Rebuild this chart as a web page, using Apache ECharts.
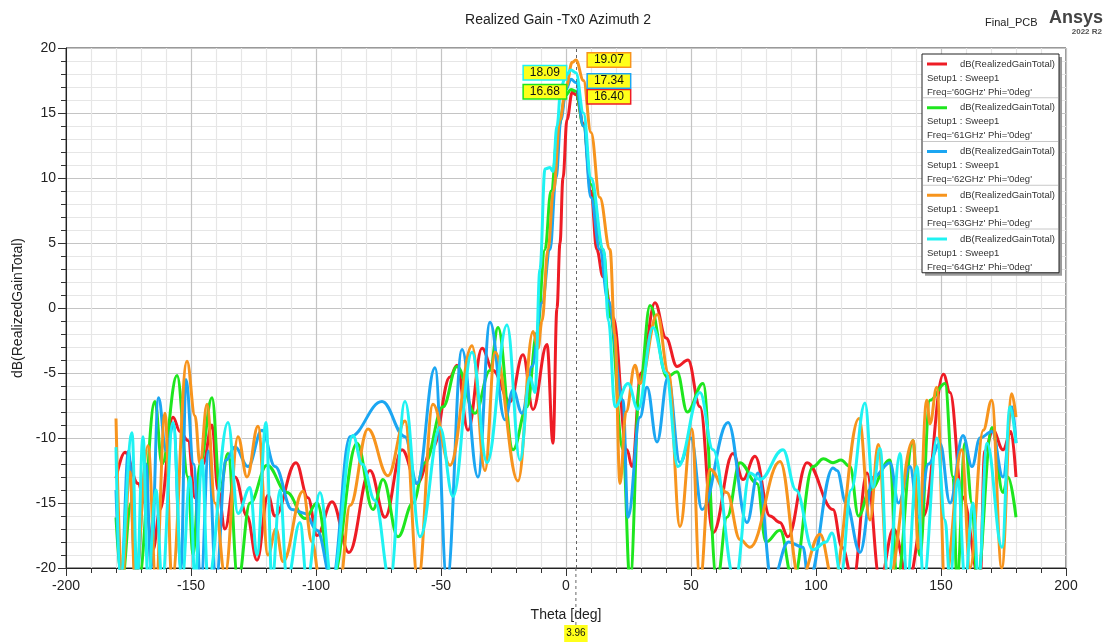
<!DOCTYPE html>
<html><head><meta charset="utf-8">
<script src="https://cdn.jsdelivr.net/npm/echarts/dist/echarts.min.js"></script>
<style>html,body{margin:0;padding:0;background:#fff}#c{width:1112px;height:643px}</style>
</head><body><div id="c"></div>
<script>
// ---------- data ----------
const xTicks = { min: -200, max: 200, step: 50 };
const yTicks = { min: -20, max: 20, step: 5 };
const freqLabels = ['60GHz', '61GHz', '62GHz', '63GHz', '64GHz'];
const seriesColors = ['#ee1c25', '#1ee61e', '#1ba6f2', '#f7941d', '#1ff2f2'];
const markerTheta = 3.96;
const markerValues = [16.40, 16.68, 17.34, 19.07, 18.09];

const gain60 = [[-180,-13.1],[-176.4,-11.1],[-171.2,-13.5],[-168.4,-15],[-165.2,-18.6],[-162.4,-15.5],[-157.2,-8.4],[-154.4,-9.5],[-151.2,-10.2],[-148.4,-14.6],[-145.2,-12],[-141.6,-9],[-139.2,-14],[-136.4,-17],[-132.4,-13],[-127.6,-16],[-123.6,-19.4],[-119.2,-14.4],[-116.4,-16],[-108,-11.9],[-103.2,-14.6],[-99.6,-17.5],[-93.6,-14.9],[-86.8,-18.8],[-78.4,-12.5],[-72.4,-16.1],[-65.6,-10.9],[-59.6,-13.5],[-53.2,-10.7],[-46.4,-5.3],[-43.6,-4.4],[-39.2,-9.4],[-33.6,-3.1],[-29.2,-4.8],[-22.4,-7.2],[-17.2,-3.6],[-13.2,-7.8],[-7.6,-2.8],[-5.2,-10.4],[-3.6,0],[-2.4,5],[-1.2,10],[0.4,14.5],[2.5,16.6],[3.96,16.40],[7,14.2],[10,9],[12.3,4.5],[14.8,2.4],[18.8,-0.7],[24.4,-10.9],[26.4,-12.2],[30,-5],[35.6,0.4],[40,-2.3],[44.4,-4.5],[48.8,-4],[53.6,-7.6],[58.8,-17.3],[66.8,-11.2],[70.8,-13.2],[75.6,-11.4],[81.6,-16],[85.6,-16.5],[88.8,-17.6],[96.4,-11.9],[106.8,-15.5],[110.4,-18.4],[114.8,-21],[120.4,-12.7],[125.6,-21],[131,-17],[137,-21],[143,-16],[151,-5.1],[153.6,-6.5],[158.5,-14.5],[165.6,-21],[167.5,-11],[170.8,-9.4],[174.8,-10.9],[178,-9.5],[180,-13]];

const gain61 = [[-180,-16.1],[-177.6,-21],[-174,-15],[-171,-21],[-164.4,-7.2],[-161.6,-12],[-155.6,-5.2],[-151.2,-13],[-149.2,-19],[-146.4,-12],[-141.6,-6.9],[-138.4,-14],[-135.2,-11.2],[-131.2,-21],[-126.4,-15],[-119.6,-12.1],[-111.6,-14.2],[-104.4,-16.2],[-99.6,-15],[-93.6,-21],[-83.6,-10.4],[-77.2,-15.5],[-73.2,-13.2],[-67.2,-17.6],[-61.2,-15],[-56.4,-11.9],[-49.2,-7.6],[-43.6,-4.5],[-36.4,-8.1],[-30.4,-4.8],[-27.2,-1.5],[-21.2,-10.9],[-15.6,-7.6],[-11.6,-1.9],[-8.4,4.5],[-6,9],[-3,14],[0,16.4],[2,16.8],[3.96,16.68],[7,14],[10,9.5],[14.8,4.5],[17.6,-0.7],[22.8,-10.9],[25.6,-21],[29.6,-5.8],[33.6,0.2],[40.4,-5.3],[44.4,-4.9],[48.5,-8],[54.8,-5.8],[60.4,-21],[64.4,-16.1],[69.6,-11.9],[76.4,-13.5],[80,-18],[85.6,-17.1],[90.8,-21],[98.8,-12.2],[103,-11.6],[106.8,-11.9],[110,-11.7],[113.6,-12.2],[117,-16],[121.6,-14],[129.6,-11.7],[132.4,-21],[138.8,-10.2],[141.5,-19],[145.6,-7.1],[151.6,-5.8],[154.8,-13],[156.4,-21],[159.6,-10.4],[162.4,-15],[164.4,-21],[170.4,-9.2],[174.8,-14.2],[176.8,-13],[180,-16.1]];

const gain62 = [[-180,-14],[-178,-21],[-175,-11],[-172,-21],[-168,-12],[-166,-20],[-163,-6.9],[-160,-11],[-157,-9],[-154,-20],[-152,-5.5],[-149,-12],[-146,-21],[-143,-11],[-140,-21],[-136,-11.7],[-132.4,-10.7],[-127.2,-12.2],[-121.6,-9.4],[-116.4,-12.2],[-109.6,-15.5],[-104.4,-15.8],[-99.6,-17.1],[-93.6,-21],[-86.4,-9.9],[-73.6,-7.2],[-64.4,-9.9],[-59.6,-13.5],[-52.4,-4.6],[-47.6,-21],[-41.6,-3.2],[-35.2,-13],[-30.4,-1.1],[-24.4,-8.6],[-21.2,-6.3],[-17.6,-8.1],[-13.6,-4.5],[-9.6,0.4],[-6.4,4.5],[-4,10],[-2,14.5],[0,16.8],[2,17.6],[3.96,17.34],[7,14],[10,8.5],[13.5,4.5],[16.8,0.6],[22.8,-7.1],[24.8,-16.1],[29.6,-8.4],[32.4,-6.1],[36.4,-10.3],[40.8,-5.3],[45.6,-11.9],[50,-10],[54.4,-15.5],[64.8,-8.8],[72.4,-16.5],[76.8,-12.7],[82.4,-21],[89,-18],[94.8,-18.4],[97,-21],[106.8,-12.3],[108.4,-12.5],[112,-15],[117.6,-18.8],[123,-13],[129.6,-11.9],[133,-15],[137.6,-12.2],[141,-16.1],[145,-12],[149.6,-10.4],[153.6,-15],[158.8,-9.8],[162.4,-12.2],[165.6,-10],[170.4,-9.5],[174.8,-13],[178.4,-7.6],[180,-10.4]];

const gain63 = [[-180,-8.5],[-177.6,-21],[-174.4,-12.6],[-172.4,-21],[-167.2,-10.6],[-164,-21],[-160.4,-8.1],[-157.6,-21],[-151.6,-4.1],[-148.4,-8.3],[-146.4,-12],[-143.6,-7.4],[-140.4,-15],[-136.4,-20.5],[-131.2,-9.9],[-127.6,-13],[-123.2,-9.1],[-119.2,-19],[-116,-17],[-113.2,-19.5],[-105.2,-14.1],[-101.6,-18],[-98.4,-21],[-90.4,-21],[-86.4,-15.2],[-79.2,-9.3],[-71.2,-12.9],[-64.4,-8.7],[-59.2,-21],[-53.2,-7.4],[-46.4,-12.1],[-37.6,-2.9],[-32.4,-12.5],[-28.4,-3.4],[-19.2,-13.3],[-13.2,-1.8],[-11.2,-3.1],[-9.6,-1],[-7.2,4.5],[-5,9],[-2.4,14.5],[0,17],[2.5,18.9],[3.96,19.07],[7,17.5],[10,13.5],[13.5,8.5],[17.6,4.5],[19.5,-2],[21.6,-13.5],[24,-8],[27.6,-4.4],[29.6,-5.8],[36.5,-0.5],[41,-5],[45.6,-16.8],[50.3,-9.3],[53.6,-21],[57.6,-12.4],[64.3,-14.2],[69.6,-17.8],[73.6,-18.4],[85.6,-11.8],[93.6,-21],[101.6,-17.4],[106.9,-21],[117.2,-8.5],[121.6,-16.3],[124.9,-10.5],[128.9,-21],[138.9,-10.2],[140.9,-18.5],[144.3,-7.1],[145.6,-8.9],[148.3,-6.1],[151.6,-21],[158.3,-10.9],[161.6,-20],[166.9,-9.4],[170.3,-7.1],[174.3,-20],[178.3,-6.6],[180,-8.4]];

const gain64 = [[-180,-10.7],[-178.4,-21],[-173.6,-9.6],[-171.6,-21],[-169.2,-9.9],[-167.2,-21],[-164,-14],[-161.6,-21],[-157.2,-8.8],[-153.6,-21],[-150.4,-13],[-148.4,-21],[-145.6,-11.7],[-143.2,-21],[-135.2,-8.8],[-131.2,-15.8],[-126.4,-13.8],[-123.6,-19],[-120,-8.8],[-117.6,-21],[-114.4,-14],[-111.6,-21],[-106.4,-16.5],[-103.6,-21],[-98.4,-14.2],[-93.6,-21],[-85.2,-9.8],[-81.6,-12],[-76.4,-14.8],[-70.4,-21],[-64.4,-7.2],[-58.4,-17.6],[-50.4,-9.2],[-45.2,-14.5],[-37.6,-3.4],[-31.6,-11.9],[-23.6,-1.3],[-18.4,-11.7],[-14.4,-5.3],[-12.4,-6.5],[-10.4,3],[-8.4,10.7],[-6.4,10.8],[-5.2,10.5],[-3.6,14],[-2,17],[0,17.9],[2,18.3],[3.96,18.09],[7,15],[10,10],[15,4.5],[17,-1],[19.6,-7.6],[24.8,-5.8],[28.8,-7.8],[34.8,-1.5],[40,-5],[44.8,-12.2],[53.6,-6.5],[58.8,-10.9],[67.6,-21],[73.6,-12.7],[77.6,-13.2],[86.8,-10.9],[92,-14],[98.8,-18.6],[104,-18],[106.4,-17.3],[110,-20.5],[114,-14],[119.6,-7.3],[122.8,-13.8],[125.6,-10.8],[128.8,-21],[133.6,-11.2],[136.4,-21],[140.4,-12.2],[143,-21],[148.4,-10],[151.6,-16.3],[153.6,-21],[156.8,-13.2],[159.6,-21],[162.8,-15],[165,-21],[168.4,-10.4],[174.4,-18.4],[177.6,-7.6],[180,-10.4]];

const allGains = [gain60, gain61, gain62, gain63, gain64];
const traceName = 'dB(RealizedGainTotal)';
const setupName = 'Setup1 : Sweep1';

// ---------- chart ----------
const FONT = '"Liberation Sans", Arial, sans-serif';
const chart = echarts.init(document.getElementById('c'), null, { renderer: 'canvas' });

const labelSide = ['right', 'left', 'right', 'right', 'left'];
const labelShift = [2, 0.5, -1.5, 0, 0];

const series = allGains.map((g, i) => ({
  name: freqLabels[i],
  type: 'line',
  data: g,
  smooth: 0.4,
  smoothMonotone: 'x',
  showSymbol: false,
  symbol: 'none',
  clip: true,
  z: 2 + i,
  lineStyle: { color: seriesColors[i], width: 3 },
  itemStyle: { color: seriesColors[i] },
  markPoint: {
    symbol: 'circle', symbolSize: 0, silent: true,
    data: [{ coord: [markerTheta, markerValues[i]], value: markerValues[i].toFixed(2) }],
    label: {
      show: true, position: labelSide[i], distance: labelSide[i] === 'right' ? 12 : 10,
      offset: [0, labelShift[i]],
      formatter: () => markerValues[i].toFixed(2),
      backgroundColor: '#ffff1a', borderColor: seriesColors[i], borderWidth: 1.5,
      padding: [1, 6, 0, 6], lineHeight: 12, fontSize: 12, fontFamily: FONT, color: '#111'
    },
    z: 20
  },
  markLine: i === 0 ? {
    silent: true, symbol: 'none',
    lineStyle: { color: '#666', type: [3, 3], width: 1 },
    label: { show: false },
    data: [{ xAxis: markerTheta }]
  } : undefined
}));

const LZ = 60;
const legendX = 922, legendY = 54, legendW = 137, entryH = 43.75;
const legendChildren = [
  { type: 'rect', z: LZ, shape: { x: legendX + 3, y: legendY + 3, width: legendW, height: entryH * 5 }, style: { fill: '#9a9a9a' } },
  { type: 'rect', z: LZ + 1, shape: { x: legendX, y: legendY, width: legendW, height: entryH * 5 }, style: { fill: '#fff', stroke: '#222', lineWidth: 1 } }
];
freqLabels.forEach((f, i) => {
  const y0 = legendY + i * entryH;
  legendChildren.push({ type: 'line', z: LZ + 2, shape: { x1: legendX + 5, y1: y0 + 10, x2: legendX + 25, y2: y0 + 10 }, style: { stroke: seriesColors[i], lineWidth: 3 } });
  legendChildren.push({ type: 'text', z: LZ + 2, style: { x: legendX + legendW - 4, y: y0 + 10, text: traceName, textAlign: 'right', textVerticalAlign: 'middle', font: '9.5px ' + FONT, fill: '#333' } });
  legendChildren.push({ type: 'text', z: LZ + 2, style: { x: legendX + 5, y: y0 + 24, text: setupName, textAlign: 'left', textVerticalAlign: 'middle', font: '9.5px ' + FONT, fill: '#333' } });
  legendChildren.push({ type: 'text', z: LZ + 2, style: { x: legendX + 5, y: y0 + 38, text: "Freq='" + f + "' Phi='0deg'", textAlign: 'left', textVerticalAlign: 'middle', font: '9.5px ' + FONT, fill: '#333' } });
  if (i < freqLabels.length - 1) {
    legendChildren.push({ type: 'line', z: LZ + 2, shape: { x1: legendX + 1, y1: y0 + entryH, x2: legendX + legendW - 1, y2: y0 + entryH }, style: { stroke: '#c8c8c8', lineWidth: 1 } });
  }
});

const axisCommon = {
  axisLine: { show: true, onZero: false, lineStyle: { color: '#222', width: 1 } },
  axisTick: { show: true, inside: false, length: 8, lineStyle: { color: '#333' } },
  minorTick: { show: true, splitNumber: 5, length: 5, lineStyle: { color: '#333' } },
  splitLine: { show: true, lineStyle: { color: '#c4c4c4', width: 1.2 } },
  minorSplitLine: { show: true, lineStyle: { color: '#e6e6e6', width: 1.2 } },
  nameTextStyle: { fontFamily: FONT, fontSize: 14, color: '#222' }
};

const option = {
  animation: false,
  backgroundColor: '#fff',
  title: {
    text: 'Realized Gain -Tx0 Azimuth 2', left: 553, top: 8, textAlign: 'center',
    textStyle: { fontFamily: FONT, fontSize: 14, fontWeight: 'normal', color: '#222' }
  },
  grid: { left: 66, right: 46, top: 48, bottom: 75, show: true, borderColor: '#333', borderWidth: 1, containLabel: false },
  xAxis: Object.assign({}, axisCommon, {
    type: 'value', min: xTicks.min, max: xTicks.max, interval: xTicks.step,
    name: 'Theta [deg]', nameLocation: 'middle', nameGap: 40,
    axisLabel: { fontFamily: FONT, fontSize: 14, color: '#222', margin: 11 }
  }),
  yAxis: Object.assign({}, axisCommon, {
    type: 'value', min: yTicks.min, max: yTicks.max, interval: yTicks.step,
    name: 'dB(RealizedGainTotal)', nameLocation: 'middle', nameGap: 40, nameRotate: 90,
    axisLabel: { fontFamily: FONT, fontSize: 14, color: '#222', margin: 10 }
  }),
  series: series,
  graphic: [
    { id: 'legend', type: 'group', children: legendChildren },
    { type: 'text', z: LZ, style: { x: 985, y: 23, text: 'Final_PCB', textVerticalAlign: 'middle', font: '11px ' + FONT, fill: '#222' } },
    { type: 'text', z: LZ, style: { x: 1103, y: 18, text: 'Ansys', textAlign: 'right', textVerticalAlign: 'middle', font: 'bold 18px ' + FONT, fill: '#444' } },
    { type: 'text', z: LZ, style: { x: 1102, y: 32, text: '2022 R2', textAlign: 'right', textVerticalAlign: 'middle', font: 'bold 8px ' + FONT, fill: '#555' } }
  ]
};
chart.setOption(option);

// extension of the marker line below the axis, with its value tag
const px = chart.convertToPixel({ xAxisIndex: 0 }, markerTheta);
const pyBottom = chart.convertToPixel({ yAxisIndex: 0 }, yTicks.min);
chart.setOption({
  graphic: [
    { id: 'mlExt', type: 'line', z: 40, shape: { x1: px, y1: pyBottom, x2: px, y2: 625 }, style: { stroke: '#666', lineWidth: 1, lineDash: [3, 3] } },
    { id: 'mlTag', type: 'text', z: 41, style: { x: px, y: 625, text: markerTheta.toFixed(2), textAlign: 'center', textVerticalAlign: 'top', font: '10px ' + FONT, fill: '#111', backgroundColor: '#ffff1a', padding: [3, 2, 4, 2] } }
  ]
});
</script>
</body></html>
